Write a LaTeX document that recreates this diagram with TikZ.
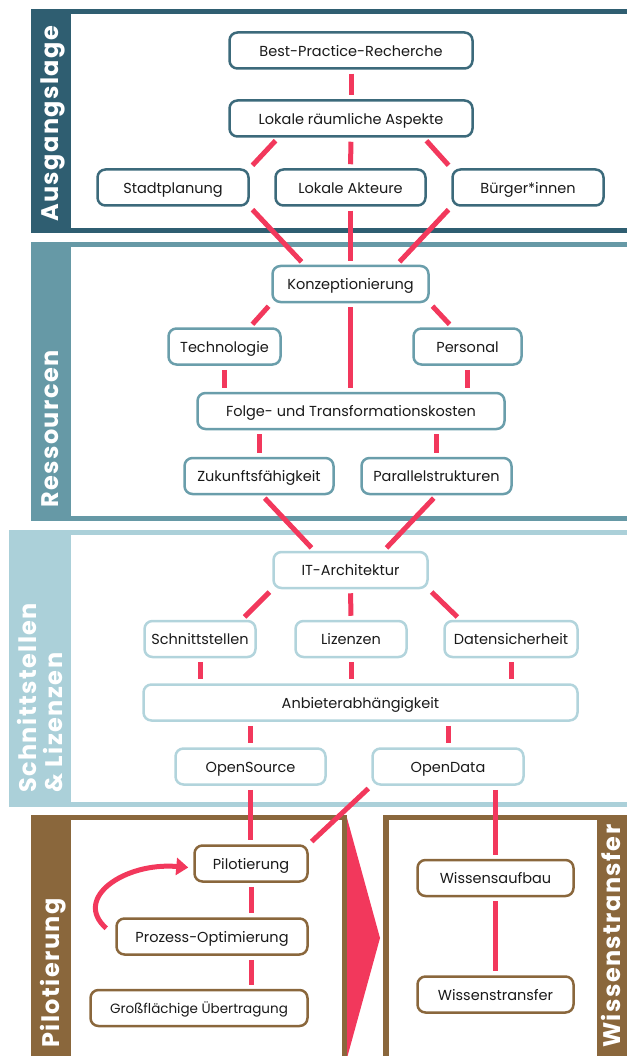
\documentclass[tikz,border=0pt]{standalone}
\usepackage{fontspec}
\setmainfont{Poppins}
\newfontfamily\bandfont{Poppins}[LetterSpace=6]
\usetikzlibrary{arrows.meta,calc}
\definecolor{cA}{HTML}{2F5E71}
\definecolor{cB}{HTML}{6699A6}
\definecolor{cC}{HTML}{ABD0D9}
\definecolor{cD}{HTML}{8A673C}
\definecolor{bA}{HTML}{3C6A7B}
\definecolor{bB}{HTML}{6A9EAB}
\definecolor{bC}{HTML}{B2D4DC}
\definecolor{lnk}{HTML}{F2385C}
\definecolor{txt}{HTML}{1A1A1A}
\begin{document}
\begin{tikzpicture}[x=1pt,y=-1pt,
  box/.style={draw, rounded corners=8pt, line width=2.5pt, fill=white, text=txt,
    font=\fontsize{14.5}{16}\selectfont, inner sep=0pt, minimum height=36pt,
    text height=11.5pt, text depth=0pt},
  link/.style={draw=lnk, line width=5pt, shorten <=4pt, shorten >=4pt},
  bandlabel/.style={text=white, font=\bandfont\bfseries\fontsize{24}{26}\selectfont,
    inner sep=0pt, rotate=90, anchor=base west}]
\useasboundingbox (0,0) rectangle (627,1056);
% ---- frames ----
\fill[cA] (31,9) rectangle (71,233);
\fill[cA] (31,9) rectangle (627,14.5);
\fill[cA] (31,228) rectangle (627,233);
\fill[cB] (31,242) rectangle (71,521);
\fill[cB] (31,242) rectangle (627,247);
\fill[cB] (31,516) rectangle (627,521);
\fill[cC] (9,530) rectangle (71,807);
\fill[cC] (9,530) rectangle (627,535);
\fill[cC] (9,802) rectangle (627,807);
\fill[cD] (31,815) rectangle (71,1056);
\fill[cD] (31,815) rectangle (347,820);
\fill[cD] (342,815) rectangle (347,1056);
\fill[cD] (383,815) rectangle (389,1056);
\fill[cD] (383,815) rectangle (627,820);
\fill[cD] (597,815) rectangle (627,1056);
\fill[lnk] (347,818) -- (380,938) -- (347,1058) -- cycle;
% ---- band labels ----
\node[bandlabel] (lA) at (58,222) {Ausgangslage};
\node[bandlabel] (lB) at (58,508) {Ressourcen};
\node[bandlabel] (lC1) at (36,793) {Schnittstellen};
\node[bandlabel] (lC2) at (62,793) {\& Lizenzen};
\node[bandlabel] (lD) at (59,1048) {Pilotierung};
\node[bandlabel] (lE) at (620,1048) {Wissenstransfer};
% ---- nodes ----
\begin{scope}[every node/.append style={box}]
\node[draw=bA, minimum width=243] (bpr) at (351,50.5) {Best-Practice-Recherche};
\node[draw=bA, minimum width=243] (lra) at (351,118.5) {Lokale räumliche Aspekte};
\node[draw=bA, minimum width=151] (stadt) at (173,187.5) {Stadtplanung};
\node[draw=bA, minimum width=150] (akt) at (350.5,187.5) {Lokale Akteure};
\node[draw=bA, minimum width=151] (bue) at (528,187.5) {Bürger*innen};
\node[draw=bB, minimum width=156] (konz) at (350.5,284) {Konzeptionierung};
\node[draw=bB, minimum width=112] (tech) at (224.5,346.5) {Technologie};
\node[draw=bB, minimum width=108] (pers) at (467.5,346.5) {Personal};
\node[draw=bB, minimum width=307] (folge) at (351,411) {Folge- und Transformationskosten};
\node[draw=bB, minimum width=149] (zuk) at (259,476) {Zukunftsfähigkeit};
\node[draw=bB, minimum width=150] (par) at (436.5,476) {Parallelstrukturen};
\node[draw=bC, minimum width=154] (it) at (350.5,570) {IT-Architektur};
\node[draw=bC, minimum width=111] (sch) at (200,639) {Schnittstellen};
\node[draw=bC, minimum width=111] (liz) at (351,639) {Lizenzen};
\node[draw=bC, minimum width=133] (dat) at (511,639) {Datensicherheit};
\node[draw=bC, minimum width=434] (anb) at (360.5,702.5) {Anbieterabhängigkeit};
\node[draw=bC, minimum width=150] (osrc) at (250.5,766.5) {OpenSource};
\node[draw=bC, minimum width=151] (odat) at (448,766.5) {OpenData};
\node[draw=cD, minimum width=113] (pil) at (251,863.5) {Pilotierung};
\node[draw=cD, minimum width=191] (pro) at (212,936.5) {Prozess-Optimierung};
\node[draw=cD, minimum width=217, font=\fontsize{13.5}{15}\selectfont] (gro) at (199,1008) {Großflächige Übertragung};
\node[draw=cD, minimum width=156] (wa) at (495.5,878) {Wissensaufbau};
\node[draw=cD, minimum width=156] (wt) at (495.5,994.5) {Wissenstransfer};
\end{scope}
% ---- connectors ----
\draw[link] (bpr) -- (lra);
\draw[link] ($(lra.south west)+(50,0)$) -- (stadt.north east);
\draw[link] (lra) -- (akt);
\draw[link] ($(lra.south east)+(-50,0)$) -- (bue.north west);
\draw[link] (stadt.south east) -- ($(konz.north west)+(33,0)$);
\draw[link] (akt) -- (konz);
\draw[link] (bue.south west) -- ($(konz.north east)+(-33,0)$);
\draw[link] (konz.south west) -- ($(tech.north east)+(-32,0)$);
\draw[link] (konz.south) -- (konz.south |- folge.north);
\draw[link] (konz.south east) -- ($(pers.north west)+(40,0)$);
\draw[link] (tech) -- (tech |- folge.north);
\draw[link] (pers) -- (pers |- folge.north);
\draw[link] (zuk |- folge.south) -- (zuk);
\draw[link] (par |- folge.south) -- (par);
\draw[link] ($(zuk.south)+(3,0)$) -- ($(it.north west)+(42,0)$);
\draw[link] (par.south) -- ($(it.north east)+(-45,0)$);
\draw[link] (it.south west) -- ($(sch.north east)+(-15,0)$);
\draw[link] (it) -- (liz);
\draw[link] (it.south east) -- ($(dat.north west)+(17,0)$);
\draw[link] (sch) -- (sch |- anb.north);
\draw[link] (liz) -- (liz |- anb.north);
\draw[link] (dat) -- (dat |- anb.north);
\draw[link] (osrc |- anb.south) -- (osrc);
\draw[link] (odat |- anb.south) -- (odat);
\draw[link] (osrc) -- (osrc |- pil.north);
\draw[link] (odat.south west) -- (pil.north east);
\draw[link] (wa |- odat.south) -- (wa);
\draw[link] (pil) -- (pil |- pro.north);
\draw[link] (pil |- pro.south) -- (pil |- gro.north);
\draw[link] (wa) -- (wt);
\draw[draw=lnk, line width=5pt, -{Triangle[length=12pt,width=17pt]}]
  ($(pro.north west)+(-9,11)$) .. controls (72,898) and (125,862) .. ($(pil.west)+(-5,4)$);
\end{tikzpicture}
\end{document}
